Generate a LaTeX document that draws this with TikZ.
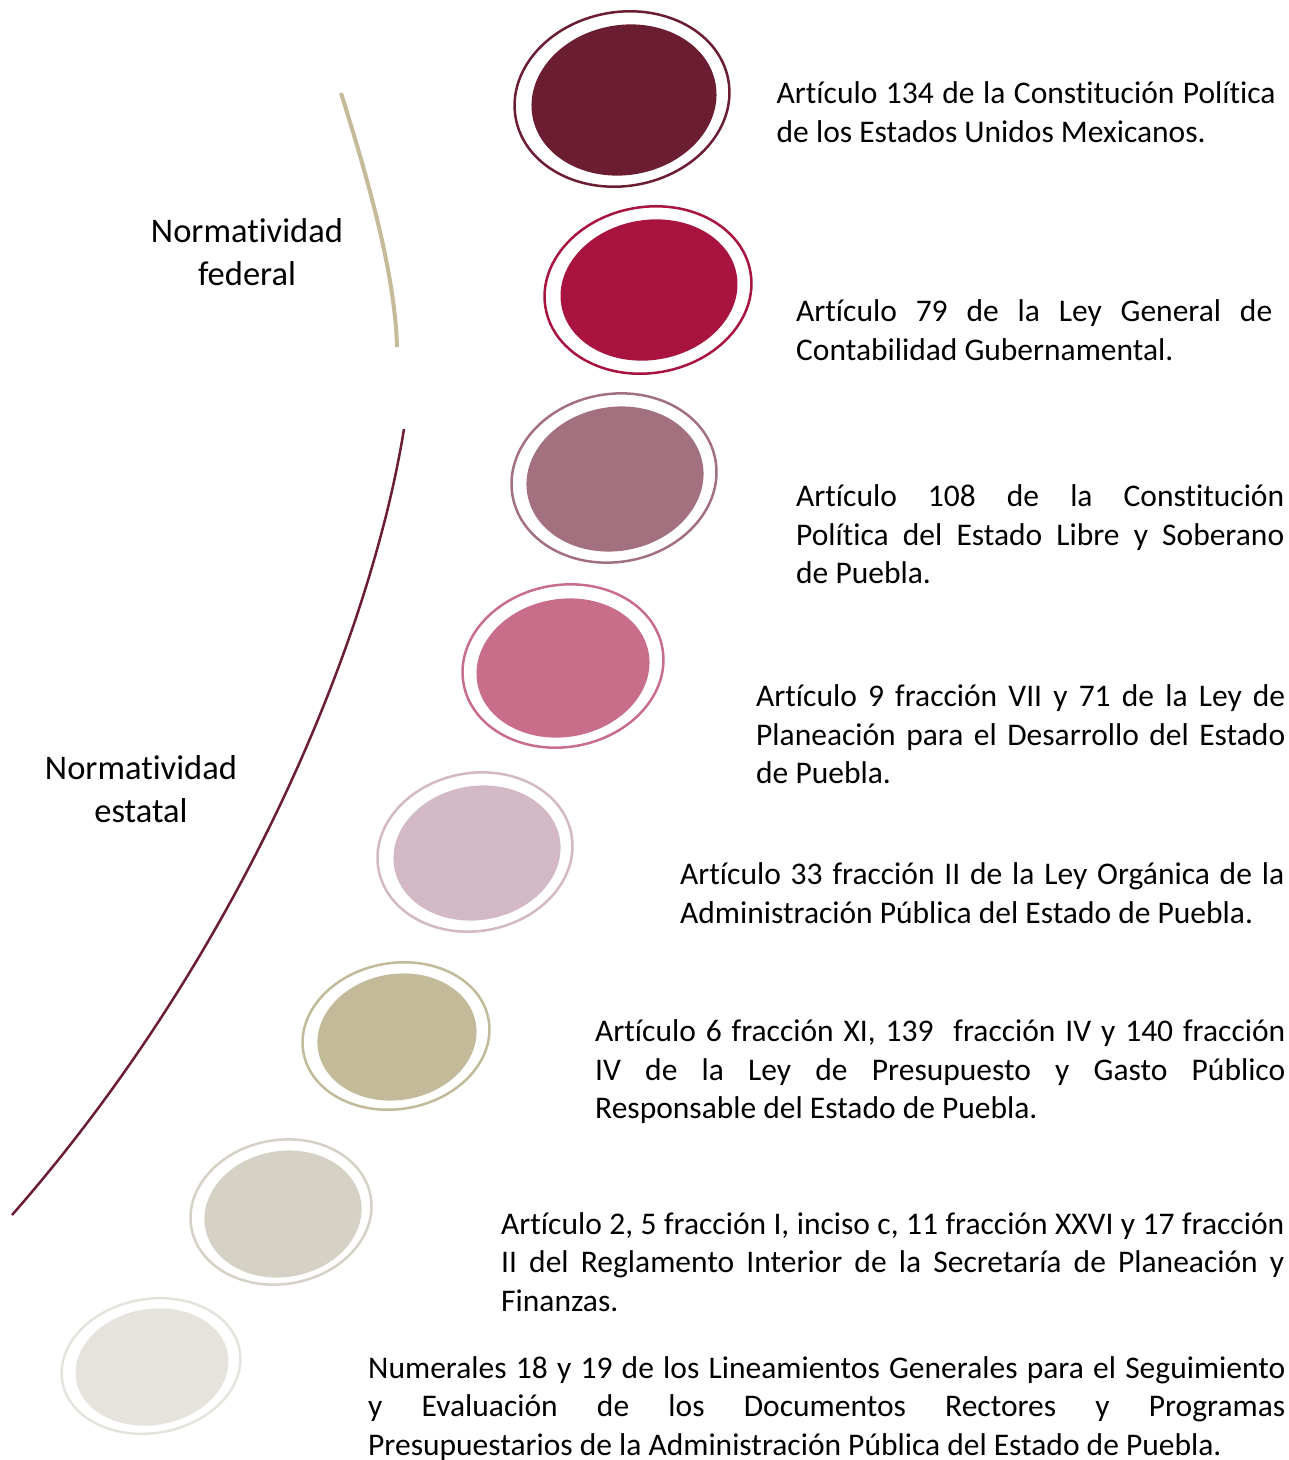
\documentclass[tikz,border=0pt]{standalone}
\usepackage{fontspec}
\setmainfont{Carlito}[Ligatures=NoCommon]
\usetikzlibrary{shapes.geometric}

\definecolor{vino}{HTML}{6B1D32}
\definecolor{guinda}{HTML}{A8133F}
\definecolor{malva}{HTML}{A37080}
\definecolor{rosa}{HTML}{C96E8A}
\definecolor{rosaclaro}{HTML}{D3B8C6}
\definecolor{arena}{HTML}{C2BA99}
\definecolor{piedra}{HTML}{D6D1C5}
\definecolor{hueso}{HTML}{E6E3DC}
\definecolor{arco}{HTML}{C5BB98}

\begin{document}
\begin{tikzpicture}[x=1pt,y=-1pt,
  ring/.style={ellipse, draw=#1, line width=2.5pt, inner sep=0pt, rotate=10},
  disc/.style={ellipse, fill=#1, inner sep=0pt, rotate=10},
  cita/.style={anchor=base west, inner sep=0pt, align=justify,
    font=\fontsize{31.5}{38.5}\selectfont},
  grupo/.style={anchor=base, inner sep=0pt, text width=260pt, align=center,
    font=\fontsize{34.5}{43}\selectfont}]
\useasboundingbox (0,0) rectangle (1289,1460);

% arcs
\draw[arco, line width=4pt] (341,93) .. controls (365,170) and (395,270) .. (397,347);
\draw[vino, line width=2.5pt] (404,429) .. controls (370,640) and (240,955) .. (12,1215);

\node (federal) [grupo] at (247,242) {Normatividad\\federal};
\node (estatal) [grupo] at (141,779) {Normatividad\\estatal};

% bubbles
\node (r1) [ring=vino, minimum width=216pt, minimum height=174pt] at (622,99) {};
\node (d1) [disc=vino, minimum width=186pt, minimum height=150pt] at (624,100) {};
\node (r2) [ring=guinda, minimum width=208pt, minimum height=166pt] at (648,290) {};
\node (d2) [disc=guinda, minimum width=178pt, minimum height=140pt] at (649,290) {};
\node (r3) [ring=malva, minimum width=206pt, minimum height=168pt] at (614,478) {};
\node (d3) [disc=malva, minimum width=178pt, minimum height=144pt] at (615,479) {};
\node (r4) [ring=rosa, minimum width=202pt, minimum height=162pt] at (563,666) {};
\node (d4) [disc=rosa, minimum width=174pt, minimum height=138pt] at (563,668) {};
\node (r5) [ring=rosaclaro, minimum width=196pt, minimum height=158pt] at (475,852) {};
\node (d5) [disc=rosaclaro, minimum width=168pt, minimum height=134pt] at (477,853) {};
\node (r6) [ring=arena, minimum width=188pt, minimum height=146pt] at (396,1036) {};
\node (d6) [disc=arena, minimum width=160pt, minimum height=126pt] at (397,1037) {};
\node (r7) [ring=piedra, minimum width=182pt, minimum height=144pt] at (281,1212) {};
\node (d7) [disc=piedra, minimum width=158pt, minimum height=126pt] at (283,1214) {};
\node (r8) [ring=hueso, minimum width=180pt, minimum height=134pt] at (151,1366) {};
\node (d8) [disc=hueso, minimum width=154pt, minimum height=116pt] at (152,1367) {};

% texts
\node (art134) [cita, text width=499pt] at (776.5,103.5)
  {Artículo 134 de la Constitución Política\linebreak de los Estados Unidos Mexicanos.};
\node (art79) [cita, text width=476pt] at (796,321.5)
  {Artículo 79 de la Ley General de\linebreak Contabilidad Gubernamental.};
\node (art108) [cita, text width=488pt] at (796,506.5)
  {Artículo 108 de la Constitución\linebreak Política del Estado Libre y Soberano\linebreak de Puebla.};
\node (art9) [cita, text width=529pt] at (756,706.5)
  {Artículo 9 fracción VII y 71 de la Ley de\linebreak Planeación para el Desarrollo del Estado\linebreak de Puebla.};
\node (art33) [cita, text width=604pt] at (680,884.5)
  {Artículo 33 fracción II de la Ley Orgánica de la\linebreak Administración Pública del Estado de Puebla.};
\node (art6) [cita, text width=690pt] at (595,1041.7)
  {Artículo 6 fracción XI, 139\ \ fracción IV y 140 fracción\linebreak IV de la Ley de Presupuesto y Gasto Público\linebreak Responsable del Estado de Puebla.};
\node (art2) [cita, text width=783pt] at (501,1234)
  {Artículo 2, 5 fracción I, inciso c, 11 fracción XXVI y 17 fracción\linebreak II del Reglamento Interior de la Secretaría de Planeación y\linebreak Finanzas.};
\node (num18) [cita, text width=917pt] at (368,1378)
  {Numerales 18 y 19 de los Lineamientos Generales para el Seguimiento\linebreak y Evaluación de los Documentos Rectores y Programas\linebreak Presupuestarios de la Administración Pública del Estado de Puebla.};
\end{tikzpicture}
\end{document}
